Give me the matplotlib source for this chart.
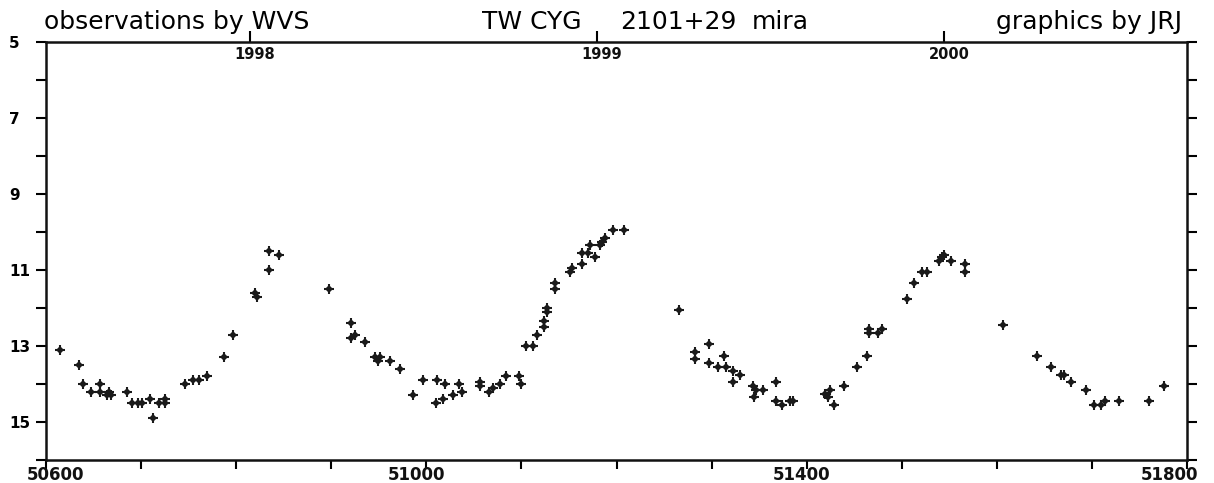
import matplotlib
matplotlib.use('Agg')
import matplotlib.pyplot as plt
import matplotlib.transforms as mtrans

# JD - 2400000 and visual magnitude
jd = [50615, 50635, 50639, 50647, 50657, 50657, 50664, 50666, 50668, 50685, 50690, 50697,
      50701, 50709, 50713, 50719, 50725, 50725, 50746, 50755, 50761, 50769, 50787, 50797,
      50820, 50822, 50835, 50845, 50835, 50898, 50921, 50925, 50921, 50936, 50946, 50951,
      50949, 50962, 50972, 50996, 51011, 50986, 51010,
      51020, 51018, 51028, 51034, 51038, 51056, 51056, 51066, 51070, 51078, 51084, 51097,
      51100, 51105, 51112, 51116, 51124, 51124, 51127, 51127, 51135, 51135, 51151, 51153,
      51164, 51164, 51170, 51172, 51177, 51183, 51185, 51188, 51196, 51208,
      51266, 51283, 51283, 51297, 51297, 51307, 51313, 51315, 51323, 51330, 51323, 51344,
      51347, 51354, 51345, 51368, 51368, 51374, 51382, 51386, 51419, 51422, 51425, 51429,
      51439, 51453, 51463, 51466, 51466, 51475, 51479, 51506, 51513, 51521, 51527, 51539,
      51542, 51544, 51552, 51566, 51566, 51607, 51642,
      51657, 51668, 51671, 51678, 51694, 51702, 51710, 51714, 51728, 51760, 51776]
mag = [13.1, 13.5, 14.0, 14.2, 14.0, 14.2, 14.3, 14.2, 14.3, 14.2, 14.5, 14.5,
       14.5, 14.4, 14.9, 14.5, 14.4, 14.5, 14.0, 13.9, 13.9, 13.8, 13.3, 12.7,
       11.6, 11.7, 10.5, 10.6, 11.0, 11.5, 12.4, 12.7, 12.8, 12.9, 13.3, 13.3,
       13.4, 13.4, 13.6, 13.9, 13.9, 14.3, 14.5,
       14.0, 14.4, 14.3, 14.0, 14.2, 13.95, 14.05, 14.2, 14.1, 14.0, 13.8, 13.8,
       14.0, 13.0, 13.0, 12.7, 12.35, 12.5, 12.0, 12.1, 11.35, 11.5, 11.05, 10.95,
       10.85, 10.55, 10.55, 10.35, 10.65, 10.35, 10.25, 10.15, 9.95, 9.95,
       12.05, 13.15, 13.35, 12.95, 13.45, 13.55, 13.25, 13.55, 13.65, 13.75, 13.95, 14.05,
       14.15, 14.15, 14.35, 13.95, 14.45, 14.55, 14.45, 14.45, 14.25, 14.35, 14.15, 14.55,
       14.05, 13.55, 13.25, 12.55, 12.65, 12.65, 12.55, 11.75, 11.35, 11.05, 11.05, 10.75,
       10.65, 10.6, 10.75, 10.85, 11.05, 12.45, 13.25,
       13.55, 13.75, 13.75, 13.95, 14.15, 14.55, 14.55, 14.45, 14.45, 14.45, 14.05]

year_jd = [50814.5, 51179.5, 51544.5]
year_labels = ['1998', '1999', '2000']
x_labels = [50600, 51000, 51400, 51800]
y_labels = [5, 7, 9, 11, 13, 15]

fig = plt.figure(figsize=(12.14, 4.83), dpi=100)
ax = fig.add_axes([46/1214, 1 - 460/483, (1187 - 46)/1214, (460 - 42)/483])

ax.plot(jd, mag, 'D', color='#1a1a1a', ms=4.3, mew=0)
ax.plot(jd, mag, '+', color='#1a1a1a', ms=6.5, mew=1.5)

ax.set_xlim(50600, 51800)
ax.set_ylim(16, 5)

for s in ax.spines.values():
    s.set_linewidth(1.8)
    s.set_color('#111111')

ax.set_xticks(range(50600, 51801, 100))
ax.set_xticklabels([])
ax.set_yticks(range(5, 17))
ax.set_yticklabels([str(v) if v in y_labels else '' for v in range(5, 17)])

ax.tick_params(axis='x', direction='out', length=6.5, width=1.5, top=False)
ax.tick_params(axis='y', direction='out', length=7.5, width=1.5, pad=19,
               labelsize=11, right=True)
for t in ax.get_yticklabels():
    t.set_fontweight('bold')
    t.set_horizontalalignment('left')

# x labels drawn by hand so the end ones stay inside the figure
xt = mtrans.blended_transform_factory(ax.transData, ax.transAxes)
nudge = {50600: 10, 51000: -10, 51400: -5, 51800: -17}
for v in x_labels:
    off = mtrans.ScaledTranslation(nudge[v] / 100, -6 / 100, fig.dpi_scale_trans)
    ax.text(v, 0, str(v), transform=xt + off, ha='center', va='top',
            fontsize=12, fontweight='bold', color='#111111', clip_on=False)

# year marks on the top axis
sec = ax.secondary_xaxis('top')
sec.set_xticks(year_jd)
sec.set_xticklabels([])
sec.tick_params(direction='out', length=8, width=1.5)
sec.spines['top'].set_visible(False)
for x, lab in zip(year_jd, year_labels):
    ax.text(x + 5, 0.988, lab, transform=xt, ha='center', va='top',
            fontsize=10.5, fontweight='bold', color='#111111')

ty = 1 - 29/483
fig.text(44/1214, ty, 'observations by WVS', fontsize=18, ha='left', va='baseline')
fig.text(482/1214, ty, 'TW CYG', fontsize=18, ha='left', va='baseline')
fig.text(620/1214, ty, '2101+29', fontsize=18, ha='left', va='baseline')
fig.text(752/1214, ty, 'mira', fontsize=18, ha='left', va='baseline')
fig.text(1182/1214, ty, 'graphics by JRJ', fontsize=18, ha='right', va='baseline')

plt.savefig('out.png', dpi=100)
